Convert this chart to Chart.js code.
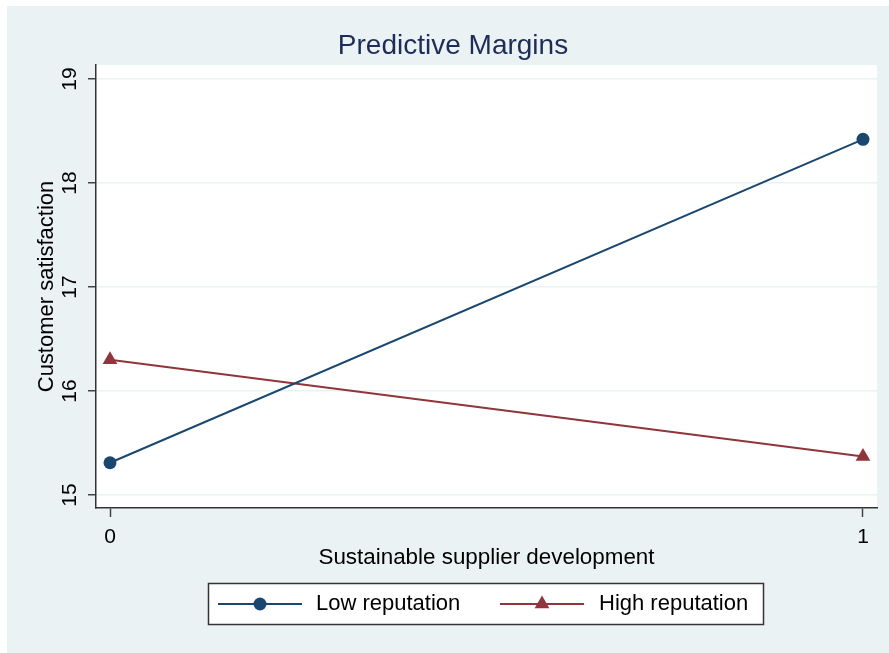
<!DOCTYPE html>
<html>
<head>
<meta charset="utf-8">
<script src="https://cdn.jsdelivr.net/npm/chart.js@4"></script>
<style>
	html, body { margin: 0; padding: 0; background: #fff; }
	#wrap { width: 889px; height: 653px; position: relative; }
</style>
</head>
<body>
<div id="wrap"><canvas id="margins"></canvas></div>
<script>
const xValues = [0, 1];
const lowReputation = [15.31, 18.42];
const highReputation = [16.3, 15.37];
const yTicks = [15, 16, 17, 18, 19];
const xTicks = [0, 1];

const FONT = "'Liberation Sans', Arial, sans-serif";
const BLUE = "#1a476f";
const RED = "#90353b";
const BG = "#eaf2f3";

function points(ys) {
	return xValues.map(function (x, i) {
		return { x: x, y: ys[i] };
	});
}

const framePlugin = {
	id: "frame",
	beforeDraw: function (chart) {
		const ctx = chart.ctx;
		const a = chart.chartArea;
		ctx.save();
		ctx.fillStyle = "#fff";
		ctx.fillRect(0, 0, chart.width, chart.height);
		ctx.fillStyle = BG;
		ctx.fillRect(7, 6, chart.width - 7, chart.height - 6);
		ctx.fillStyle = "#fff";
		ctx.fillRect(a.left, a.top, a.right - a.left, a.bottom - a.top);
		ctx.restore();
	},
	afterDraw: function (chart) {
		const ctx = chart.ctx;
		ctx.save();
		// title
		ctx.fillStyle = "#1e2d58";
		ctx.font = "28px " + FONT;
		ctx.textAlign = "center";
		ctx.textBaseline = "middle";
		ctx.fillText("Predictive Margins", 453, 46);

		// legend
		ctx.fillStyle = "#fff";
		ctx.fillRect(208.5, 583.5, 555, 41);
		ctx.strokeStyle = "#333";
		ctx.lineWidth = 1.5;
		ctx.strokeRect(208.5, 583.5, 555, 41);
		const ly = 604;
		const items = [
			{ ds: chart.data.datasets[0], x1: 218, x2: 302, tx: 316 },
			{ ds: chart.data.datasets[1], x1: 500, x2: 584, tx: 599 },
		];
		items.forEach(function (it) {
			ctx.strokeStyle = it.ds.borderColor;
			ctx.lineWidth = 2;
			ctx.beginPath();
			ctx.moveTo(it.x1, ly);
			ctx.lineTo(it.x2, ly);
			ctx.stroke();
			ctx.fillStyle = it.ds.borderColor;
			Chart.helpers.drawPoint(ctx, {
				pointStyle: it.ds.pointStyle,
				radius: it.ds.pointRadius,
				rotation: 0,
				borderWidth: 0,
			}, (it.x1 + it.x2) / 2, ly);
			ctx.fillStyle = "#000";
			ctx.font = "22px " + FONT;
			ctx.textAlign = "left";
			ctx.textBaseline = "middle";
			ctx.fillText(it.ds.label, it.tx, ly);
		});
		ctx.restore();
	},
};

const data = {
	datasets: [
		{
			label: "Low reputation",
			data: points(lowReputation),
			borderColor: BLUE,
			backgroundColor: BLUE,
			borderWidth: 2,
			pointStyle: "circle",
			pointRadius: 6.5,
			pointBorderWidth: 0,
		},
		{
			label: "High reputation",
			data: points(highReputation),
			borderColor: RED,
			backgroundColor: RED,
			borderWidth: 2,
			pointStyle: "triangle",
			pointRadius: 8.5,
			pointBorderWidth: 0,
		},
	],
};

const options = {
	responsive: true,
	maintainAspectRatio: false,
	animation: false,
	layout: { padding: { top: 65, right: 12, bottom: 0, left: 0 } },
	plugins: {
		legend: { display: false },
		title: { display: false },
		tooltip: { enabled: false },
	},
	scales: {
		x: {
			type: "linear",
			min: -0.0186,
			max: 1.0186,
			afterBuildTicks: function (scale) {
				scale.ticks = xTicks.map(function (v) { return { value: v }; });
			},
			afterFit: function (scale) { scale.height = 145; },
			grid: {
				drawOnChartArea: false,
				tickLength: 9,
				tickColor: "#444",
				tickWidth: 1.5,
			},
			border: { color: "#333", width: 1.5 },
			ticks: {
				color: "#000",
				font: { family: FONT, size: 21 },
				padding: 8,
				maxRotation: 0,
			},
			title: {
				display: true,
				text: "Sustainable supplier development",
				color: "#000",
				font: { family: FONT, size: 22.4 },
				padding: { top: 0, bottom: 82 },
			},
		},
		y: {
			min: 14.875,
			max: 19.135,
			afterBuildTicks: function (scale) {
				scale.ticks = yTicks.map(function (v) { return { value: v }; });
			},
			afterFit: function (scale) { scale.width = 96; },
			grid: {
				color: BG,
				lineWidth: 1.5,
				tickLength: 8,
				tickColor: "#444",
				tickWidth: 1.5,
			},
			border: { color: "#333", width: 1.5 },
			ticks: {
				color: "#000",
				font: { family: FONT, size: 21 },
				padding: 6,
				minRotation: 90,
				maxRotation: 90,
				crossAlign: "center",
			},
			title: {
				display: true,
				text: "Customer satisfaction",
				color: "#000",
				font: { family: FONT, size: 22 },
				padding: { top: 34, bottom: 0 },
			},
		},
	},
};

new Chart(document.getElementById("margins").getContext("2d"), {
	type: "line",
	data: data,
	options: options,
	plugins: [framePlugin],
});
</script>
</body>
</html>
